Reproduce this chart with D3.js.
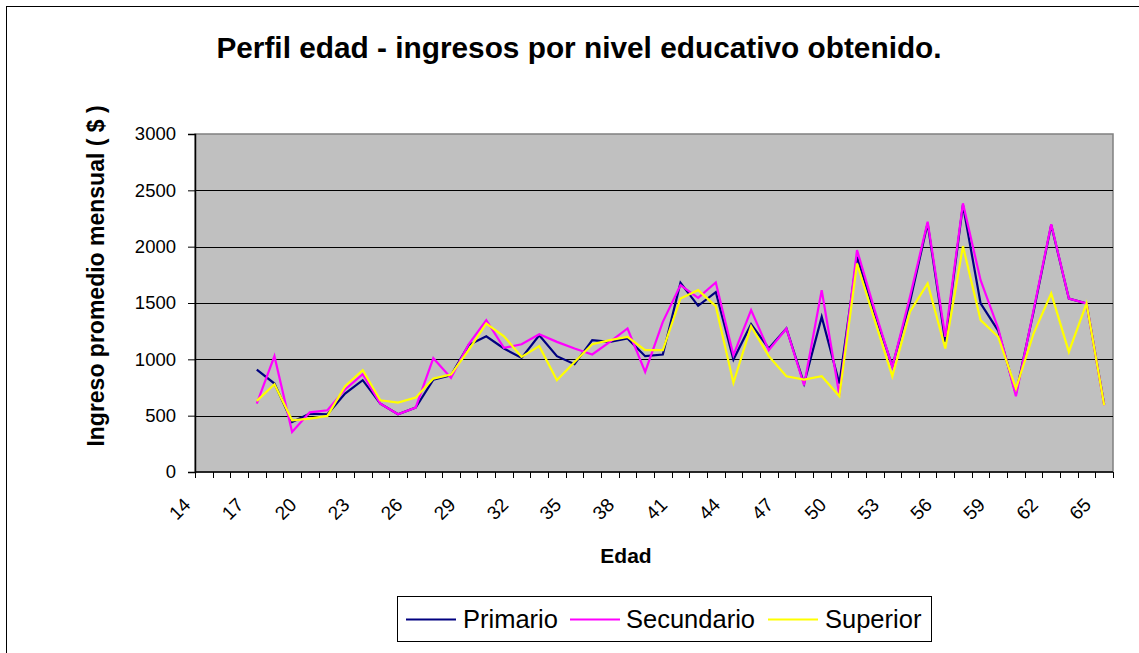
<!DOCTYPE html>
<html><head><meta charset="utf-8">
<script src="https://cdn.jsdelivr.net/npm/d3@7"></script>
<style>
html,body{margin:0;padding:0;background:#fff;}
svg{display:block;font-family:"Liberation Sans",Arial,sans-serif;}
</style></head>
<body>
<svg id="c" width="1139" height="653"></svg>
<script>
const ages = d3.range(14, 66);
const N = null;
const primario = [N,N,N,909,785,444,518,512,696,815,607,512,572,820,859,1126,1205,1096,1013,1214,1028,957,1170,1155,1185,1028,1043,1679,1475,1597,998,1312,1096,1274,785,1377,785,1910,1407,939,1511,2207,1155,2370,1496,1253,696,1422,2192,1540,1496,600];
const secundario = [N,N,N,607,1028,355,530,548,732,868,607,512,572,1010,835,1134,1348,1102,1134,1223,1155,1096,1043,1155,1274,889,1333,1659,1546,1682,1037,1437,1081,1274,770,1614,681,1970,1437,933,1555,2222,1200,2385,1703,1274,672,1437,2200,1540,1496,592];
const superior = [N,N,N,631,779,459,474,498,761,903,637,616,660,829,865,1081,1318,1205,1022,1117,815,977,1134,1170,1200,1081,1081,1540,1614,1472,791,1294,1028,850,820,850,672,1851,1348,850,1422,1673,1096,2005,1348,1200,740,1229,1585,1066,1496,592];
const seriesNames = ["Primario","Secundario","Superior"];
const seriesColors = ["#000080","#FF00FF","#FFFF00"];
const yTicks = [0,500,1000,1500,2000,2500,3000];
const title = "Perfil edad - ingresos por nivel educativo obtenido.";
const xTitle = "Edad";
const yTitle = "Ingreso promedio mensual ( $ )";

const svg = d3.select("#c");
const L = 195, R = 1113, T = 134, B = 472;
const x = d3.scaleBand().domain(ages).range([L, R]).padding(0);
const y = d3.scaleLinear().domain([0, 3000]).range([B, T]);
const cx = a => x(a) + x.bandwidth() / 2;

// outer border
svg.append("rect").attr("x", 6.5).attr("y", 6.5).attr("width", 1160).attr("height", 680)
  .attr("fill", "none").attr("stroke", "#000").attr("stroke-width", 1);

// plot area
svg.append("rect").attr("x", L).attr("y", T).attr("width", R - L).attr("height", B - T)
  .attr("fill", "#C0C0C0").attr("stroke", "#808080").attr("stroke-width", 1.5);

// gridlines
svg.append("g").selectAll("line").data(yTicks.filter(v => v > 0 && v < 3000)).join("line")
  .attr("x1", L).attr("x2", R).attr("y1", d => Math.round(y(d)) + 0.5).attr("y2", d => Math.round(y(d)) + 0.5)
  .attr("stroke", "#000").attr("stroke-width", 1);

// y axis
const ya = svg.append("g").attr("transform", `translate(${L},0)`)
  .call(d3.axisLeft(y).tickValues(yTicks).tickSize(7).tickPadding(12).tickFormat(d3.format("d")));
ya.select(".domain").attr("stroke", "#000").attr("stroke-width", 1.5);
ya.selectAll(".tick line").attr("stroke", "#000");
ya.selectAll("text").attr("font-size", 18.5).attr("fill", "#000")
  .attr("font-family", "'Liberation Sans',Arial,sans-serif");

// x axis
const xa = svg.append("g").attr("transform", `translate(0,${B})`);
xa.append("line").attr("x1", L).attr("x2", R).attr("y1", 0).attr("y2", 0).attr("stroke", "#000").attr("stroke-width", 1.5);
const bounds = ages.map(a => x(a)).concat([R]);
xa.selectAll("line.tk").data(bounds).join("line").attr("class", "tk")
  .attr("x1", d => Math.round(d) + 0.5).attr("x2", d => Math.round(d) + 0.5).attr("y1", 0).attr("y2", 6)
  .attr("stroke", "#000").attr("stroke-width", 1);
xa.selectAll("text").data(ages.filter((a, i) => i % 3 === 0)).join("text")
  .attr("transform", d => `translate(${cx(d) - 12},${34}) rotate(-45)`)
  .attr("text-anchor", "end").attr("font-size", 19).attr("fill", "#000").text(d => d);

// lines
const line = d3.line().defined(d => d.v != null).x(d => cx(d.a)).y(d => y(d.v));
[primario, secundario, superior].forEach((s, k) => {
  svg.append("path").datum(ages.map((a, i) => ({a, v: s[i]})))
    .attr("d", line).attr("fill", "none").attr("stroke", seriesColors[k])
    .attr("stroke-width", 2.2).attr("stroke-linejoin", "miter");
});

// titles
svg.append("text").attr("x", 579).attr("y", 58).attr("text-anchor", "middle")
  .attr("font-size", 29.8).attr("font-weight", "bold").text(title);
svg.append("text").attr("x", 626).attr("y", 563).attr("text-anchor", "middle")
  .attr("font-size", 21).attr("font-weight", "bold").text(xTitle);
svg.append("text").attr("transform", "translate(104,276) rotate(-90)").attr("text-anchor", "middle")
  .attr("font-size", 23).attr("font-weight", "bold").text(yTitle);

// legend
svg.append("rect").attr("x", 397.5).attr("y", 596.5).attr("width", 534).attr("height", 45)
  .attr("fill", "#fff").attr("stroke", "#000").attr("stroke-width", 1);
const lx = [406, 570, 768], tx = [463, 626, 825];
seriesNames.forEach((n, k) => {
  svg.append("line").attr("x1", lx[k]).attr("x2", lx[k] + 50).attr("y1", 619.5).attr("y2", 619.5)
    .attr("stroke", seriesColors[k]).attr("stroke-width", 2);
  svg.append("text").attr("x", tx[k]).attr("y", 628).attr("font-size", 25.5).attr("fill", "#000").text(n);
});
</script>
</body></html>
